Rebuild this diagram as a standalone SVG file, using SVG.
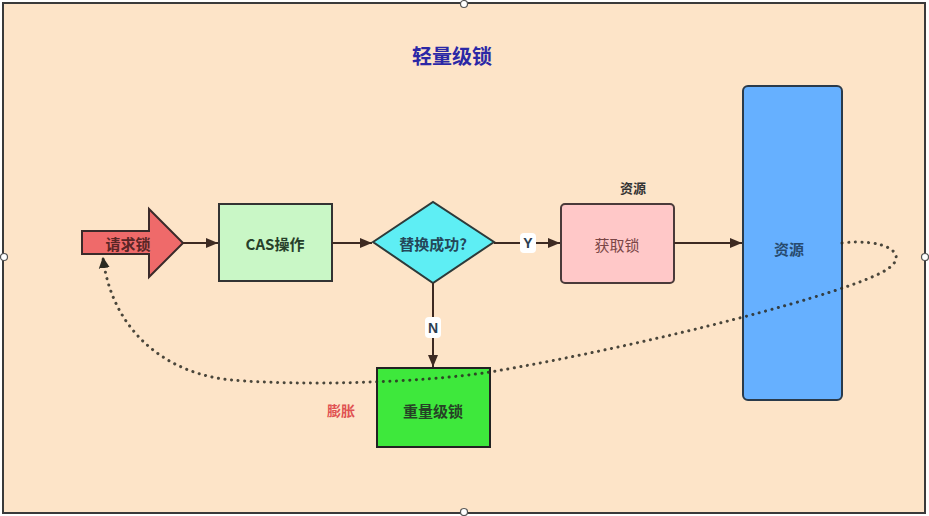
<svg xmlns="http://www.w3.org/2000/svg" width="929" height="516" viewBox="0 0 929 516">
  <style>
    .cjk { font-family: "Noto Sans CJK SC", "Liberation Sans", sans-serif; }
    .node { stroke-width: 2; }
    .lbl { font-size: 15px; font-weight: bold; text-anchor: middle; dominant-baseline: central; }
    .plain { font-weight: normal; }
    .edge { stroke: #3d2a22; stroke-width: 2; fill: none; }
    .tag { font-family: "Liberation Sans", "Noto Sans CJK SC", sans-serif; font-size: 14px; font-weight: bold; fill: #2c3e50; text-anchor: middle; dominant-baseline: central; }
    .handle { fill: #ffffff; stroke: #555555; stroke-width: 1.2; }
  </style>
  <defs>
    <marker id="arrow" viewBox="0 0 12 10" refX="12" refY="5" markerWidth="12" markerHeight="10" markerUnits="userSpaceOnUse" orient="auto">
      <path d="M0,0 L12,5 L0,10 Z" fill="#3d2a22"/>
    </marker>
    <marker id="arrowDot" viewBox="0 0 12 12" refX="11" refY="6" markerWidth="11" markerHeight="12" markerUnits="userSpaceOnUse" orient="auto">
      <path d="M0,0 L12,6 L0,12 Z" fill="#2a2a22"/>
    </marker>
  </defs>

  <!-- canvas and frame -->
  <rect x="0" y="0" width="929" height="516" fill="#ffffff"/>
  <rect x="3" y="3" width="922" height="510" fill="#fde4c8" stroke="#3a3a3a" stroke-width="2"/>

  <!-- title -->
  <text x="452" y="55" class="cjk" font-size="20" font-weight="bold" fill="#2b28a6" text-anchor="middle" dominant-baseline="central">轻量级锁</text>

  <!-- nodes -->
  <g id="request">
    <path class="node" d="M82,231 L149,231 L149,209 L183,243 L149,277 L149,254 L82,254 Z" fill="#ef6a6a" stroke="#3a2a2a"/>
    <text x="128" y="243" class="cjk lbl" fill="#5a2626">请求锁</text>
  </g>

  <g id="cas">
    <rect class="node" x="219" y="204" width="113" height="77" fill="#c9f7c6" stroke="#333333"/>
    <text x="275" y="243" class="cjk lbl" font-size="16" fill="#27402a">CAS操作</text>
  </g>

  <g id="decision">
    <path class="node" d="M373,242 L433,202 L494,242 L433,283 Z" fill="#5eeef4" stroke="#2d3a3a"/>
    <text x="433" y="243" class="cjk lbl" fill="#24485a">替换成功?</text>
  </g>

  <g id="acquire">
    <rect class="node" x="561" y="204" width="113" height="79" rx="4" fill="#ffc8c8" stroke="#4a3a3a"/>
    <text x="617" y="244" class="cjk lbl plain" fill="#7a4646">获取锁</text>
    <text x="633" y="187" class="cjk" font-size="13" font-weight="bold" fill="#333333" text-anchor="middle" dominant-baseline="central">资源</text>
  </g>

  <g id="resource">
    <rect class="node" x="743" y="86" width="99" height="314" rx="5" fill="#66b0ff" stroke="#2a3a4a"/>
    <text x="789" y="248" class="cjk lbl" fill="#274a6e">资源</text>
  </g>

  <g id="heavy">
    <rect class="node" x="377" y="368" width="113" height="79" fill="#3ee83c" stroke="#222222"/>
    <text x="433" y="410" class="cjk lbl" fill="#264226">重量级锁</text>
    <text x="341" y="410" class="cjk" font-size="14" font-weight="bold" fill="#e05252" text-anchor="middle" dominant-baseline="central">膨胀</text>
  </g>

  <!-- connectors -->
  <g id="connectors">
    <line class="edge" x1="183" y1="243" x2="218" y2="243" marker-end="url(#arrow)"/>
    <line class="edge" x1="332" y1="243" x2="372" y2="243" marker-end="url(#arrow)"/>
    <line class="edge" x1="494" y1="243" x2="560" y2="243" marker-end="url(#arrow)"/>
    <line class="edge" x1="674" y1="243" x2="742" y2="243" marker-end="url(#arrow)"/>
    <line class="edge" x1="433" y1="283" x2="433" y2="367" marker-end="url(#arrow)"/>

    <rect x="520" y="233" width="16" height="20" rx="4" fill="#ffffff"/>
    <text x="528" y="243" class="tag">Y</text>
    <rect x="425" y="317" width="16" height="21" rx="4" fill="#ffffff"/>
    <text x="433" y="328" class="tag">N</text>

    <!-- inflation loop back to the request -->
    <path d="M842,243 C885,238 912,254 886,270 C852,292 650,345 490,372 C420,383 300,386 232,380 C165,374 112,330 103,258"
          fill="none" stroke="#2a2a22" stroke-opacity="0.85" stroke-width="3" stroke-linecap="round" stroke-dasharray="0.1 6.5" marker-end="url(#arrowDot)"/>
  </g>

  <!-- frame handles -->
  <circle class="handle" cx="464" cy="4" r="3.5"/>
  <circle class="handle" cx="464" cy="512" r="3.5"/>
  <circle class="handle" cx="4" cy="257" r="3.5"/>
  <circle class="handle" cx="925" cy="257" r="3.5"/>
</svg>
